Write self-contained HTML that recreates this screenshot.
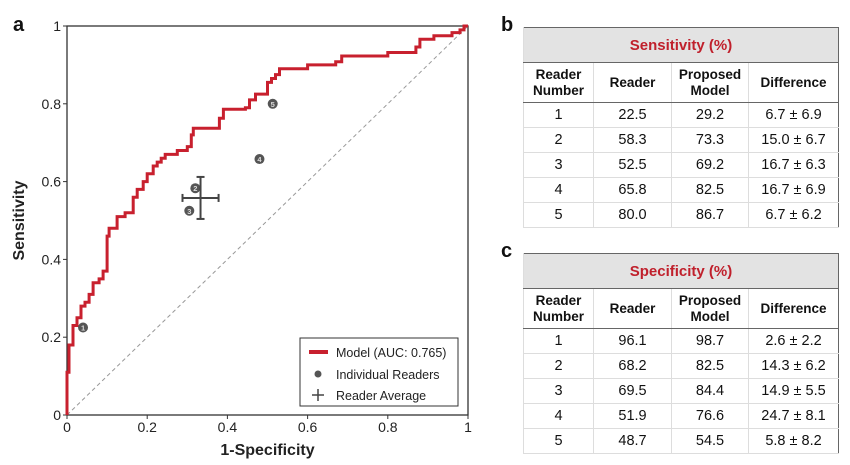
<!DOCTYPE html>
<html><head><meta charset="utf-8">
<style>
body{margin:0;width:850px;height:465px;background:#fff;font-family:"Liberation Sans",sans-serif;overflow:hidden;position:relative}
.lbl{position:absolute;font-weight:bold;font-size:20px;color:#111}
table{position:absolute;left:523px;width:316px;border-collapse:collapse;border:1.5px solid #666;font-size:14.5px;color:#111;text-align:center}
td,th{padding:0;border-left:1px solid #ddd;border-bottom:1px solid #ddd}
th{font-weight:bold;font-size:13.5px;line-height:16px;border-bottom:1.5px solid #666}
.title{background:#e3e3e3;color:#c0202c;font-weight:bold;font-size:15px;height:34px;border-bottom:1.5px solid #666}
.hd th{height:39px}
tr.r td{height:24px}
</style></head><body>
<div class="lbl" style="left:13px;top:14px">a</div>
<div class="lbl" style="left:501px;top:14px">b</div>
<div class="lbl" style="left:501px;top:240px">c</div>
<svg id="chart" width="490" height="465" style="position:absolute;left:0;top:0" font-family="Liberation Sans, sans-serif"></svg>

<table style="top:27px">
<tr><td colspan="4" class="title">Sensitivity (%)</td></tr>
<tr class="hd"><th style="width:69px">Reader<br>Number</th><th style="width:77px">Reader</th><th style="width:76px">Proposed<br>Model</th><th>Difference</th></tr>
<tr class="r"><td>1</td><td>22.5</td><td>29.2</td><td>6.7 ± 6.9</td></tr>
<tr class="r"><td>2</td><td>58.3</td><td>73.3</td><td>15.0 ± 6.7</td></tr>
<tr class="r"><td>3</td><td>52.5</td><td>69.2</td><td>16.7 ± 6.3</td></tr>
<tr class="r"><td>4</td><td>65.8</td><td>82.5</td><td>16.7 ± 6.9</td></tr>
<tr class="r"><td>5</td><td>80.0</td><td>86.7</td><td>6.7 ± 6.2</td></tr>
</table>
<table style="top:253px">
<tr><td colspan="4" class="title">Specificity (%)</td></tr>
<tr class="hd"><th style="width:69px">Reader<br>Number</th><th style="width:77px">Reader</th><th style="width:76px">Proposed<br>Model</th><th>Difference</th></tr>
<tr class="r"><td>1</td><td>96.1</td><td>98.7</td><td>2.6 ± 2.2</td></tr>
<tr class="r"><td>2</td><td>68.2</td><td>82.5</td><td>14.3 ± 6.2</td></tr>
<tr class="r"><td>3</td><td>69.5</td><td>84.4</td><td>14.9 ± 5.5</td></tr>
<tr class="r"><td>4</td><td>51.9</td><td>76.6</td><td>24.7 ± 8.1</td></tr>
<tr class="r"><td>5</td><td>48.7</td><td>54.5</td><td>5.8 ± 8.2</td></tr>
</table>

<script>
const rocFpr=[0,0,0.005,0.005,0.015,0.015,0.025,0.025,0.035,0.035,0.045,0.045,0.055,0.055,0.065,0.065,0.08,0.08,0.09,0.09,0.1,0.1,0.1,0.105,0.105,0.125,0.125,0.145,0.145,0.165,0.165,0.175,0.175,0.19,0.19,0.2,0.2,0.215,0.215,0.225,0.225,0.235,0.235,0.245,0.245,0.275,0.275,0.3,0.3,0.31,0.31,0.315,0.315,0.38,0.38,0.39,0.39,0.445,0.445,0.455,0.455,0.47,0.47,0.5,0.5,0.51,0.51,0.52,0.52,0.53,0.53,0.6,0.6,0.67,0.67,0.685,0.685,0.8,0.8,0.87,0.87,0.88,0.88,0.915,0.915,0.96,0.96,0.98,0.98,0.99,0.99,1];
const rocTpr=[0,0.11,0.11,0.18,0.18,0.23,0.23,0.25,0.25,0.28,0.28,0.29,0.29,0.31,0.31,0.34,0.34,0.35,0.35,0.37,0.37,0.38,0.46,0.46,0.48,0.48,0.51,0.51,0.52,0.52,0.56,0.56,0.58,0.58,0.60,0.60,0.62,0.62,0.64,0.64,0.65,0.65,0.66,0.66,0.67,0.67,0.68,0.68,0.69,0.69,0.72,0.72,0.737,0.737,0.763,0.763,0.786,0.786,0.79,0.79,0.81,0.81,0.825,0.825,0.855,0.855,0.865,0.865,0.875,0.875,0.89,0.89,0.90,0.90,0.908,0.908,0.923,0.923,0.932,0.932,0.946,0.946,0.966,0.966,0.975,0.975,0.983,0.983,0.99,0.99,1,1];
const readerIds=["1","2","3","4","5"];
const readerFpr=[0.04,0.32,0.305,0.48,0.513];
const readerTpr=[0.225,0.583,0.525,0.658,0.80];
const avgFpr=0.333, avgTpr=0.558, avgErrX=0.045, avgErrY=0.054;
const tickVals=[0,0.2,0.4,0.6,0.8,1];
const tickLabels=["0","0.2","0.4","0.6","0.8","1"];

const X0=67,X1=468,Y0=415,Y1=26;
const sx=v=>X0+v*(X1-X0), sy=v=>Y0-v*(Y0-Y1);
const svg=document.getElementById('chart');
const NS='http://www.w3.org/2000/svg';
function mk(tag,at,parent){const e=document.createElementNS(NS,tag);for(const k in at)e.setAttribute(k,at[k]);(parent||svg).appendChild(e);return e;}

let e=mk('line',{x1:sx(0),y1:sy(0),x2:sx(1),y2:sy(1),stroke:'#999','stroke-width':1,'stroke-dasharray':'4,3'});



e=mk('rect',{x:X0,y:Y1,width:X1-X0,height:Y0-Y1,fill:'none',stroke:'#333','stroke-width':1.3});



tickVals.forEach((v,i)=>{
  mk('line',{x1:sx(v),y1:Y0,x2:sx(v),y2:Y0+4,stroke:'#333'});
  mk('line',{x1:X0-4,y1:sy(v),x2:X0,y2:sy(v),stroke:'#333'});
  let t=mk('text',{x:sx(v),y:Y0+17,'text-anchor':'middle','font-size':14,fill:'#222'});t.textContent=tickLabels[i];
  
  
  t=mk('text',{x:X0-6,y:sy(v)+5,'text-anchor':'end','font-size':14,fill:'#222'});t.textContent=tickLabels[i];
  
  
});
e=mk('text',{x:(X0+X1)/2,y:455,'text-anchor':'middle','font-size':16,'font-weight':'bold',fill:'#222'});e.textContent='1-Specificity';


e=mk('text',{x:0,y:0,'text-anchor':'middle','font-size':16,'font-weight':'bold',fill:'#222',transform:`translate(24,${(Y0+Y1)/2}) rotate(-90)`});e.textContent='Sensitivity';



let d=rocFpr.map((v,i)=>(i?'L':'M')+sx(v).toFixed(1)+','+sy(rocTpr[i]).toFixed(1)).join(' ');
e=mk('path',{d:d,fill:'none',stroke:'#c8202e','stroke-width':3,'stroke-linejoin':'miter'});



readerIds.forEach((id,i)=>{
  const g=mk('g',{});
  
  
  mk('circle',{cx:sx(readerFpr[i]),cy:sy(readerTpr[i]),r:5,fill:'#555'},g);
  const t=mk('text',{x:sx(readerFpr[i]),y:sy(readerTpr[i])+3,'text-anchor':'middle','font-size':7.5,fill:'#ddd','font-weight':'bold'},g);t.textContent=id;
});

const ag=mk('g',{stroke:'#444','stroke-width':2});


const ax=sx(avgFpr),ay=sy(avgTpr),exl=sx(avgFpr-avgErrX),exr=sx(avgFpr+avgErrX),eyt=sy(avgTpr+avgErrY),eyb=sy(avgTpr-avgErrY);
mk('line',{x1:exl,y1:ay,x2:exr,y2:ay},ag);
mk('line',{x1:ax,y1:eyt,x2:ax,y2:eyb},ag);
mk('line',{x1:exl,y1:ay-4,x2:exl,y2:ay+4},ag);
mk('line',{x1:exr,y1:ay-4,x2:exr,y2:ay+4},ag);
mk('line',{x1:ax-4,y1:eyt,x2:ax+4,y2:eyt},ag);
mk('line',{x1:ax-4,y1:eyb,x2:ax+4,y2:eyb},ag);

const lg=mk('g',{});


mk('rect',{x:300,y:338,width:158,height:68,fill:'#fff',stroke:'#333','stroke-width':1},lg);
mk('line',{x1:309,y1:352,x2:328,y2:352,stroke:'#c8202e','stroke-width':4},lg);
mk('circle',{cx:318,cy:374,r:3.5,fill:'#555'},lg);
mk('line',{x1:312,y1:395,x2:324,y2:395,stroke:'#444','stroke-width':1.5},lg);
mk('line',{x1:318,y1:389,x2:318,y2:401,stroke:'#444','stroke-width':1.5},lg);
[['Model (AUC: 0.765)',357],['Individual Readers',379],['Reader Average',400]].forEach(([s,y])=>{
  const t=mk('text',{x:336,y:y,'font-size':12.5,fill:'#222'},lg);t.textContent=s;
  
  
});
</script>
</body></html>
